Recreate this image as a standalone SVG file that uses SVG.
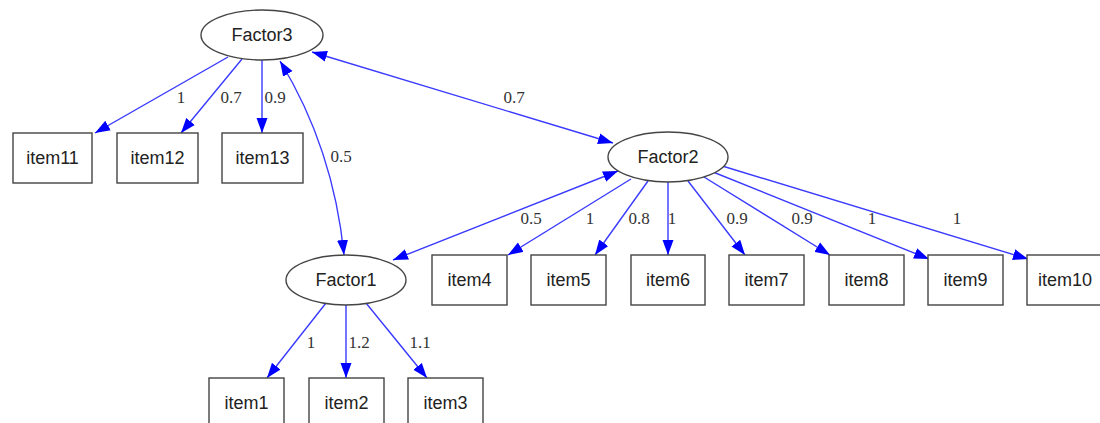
<svg xmlns="http://www.w3.org/2000/svg" width="1100" height="423" viewBox="0 0 1100 423">
<defs>
<marker id="ah" markerUnits="userSpaceOnUse" markerWidth="16" markerHeight="12" refX="15" refY="5.5" orient="auto-start-reverse" viewBox="0 0 16 11">
<polygon points="0,0 15,5.5 0,11" fill="#0000ff"/>
</marker>
<style>
.n ellipse,.n rect{fill:#fff;stroke:#444;stroke-width:1.4}
.n text{font-family:"Liberation Sans",Arial,sans-serif;font-size:18px;fill:#222;text-anchor:middle}
.e path{fill:none;stroke:#3a3aff;stroke-width:1.4}
.e .s{marker-end:url(#ah)}
.e .b{marker-start:url(#ah);marker-end:url(#ah)}
.l text{font-family:"Liberation Serif","Times New Roman",serif;font-size:17px;fill:#333;text-anchor:middle}
</style>
</defs>
<rect width="1100" height="423" fill="#fff"/>
<g class="e">
<path class="s" d="M228,57 L95,133"/>
<path class="s" d="M242,59 L181,133"/>
<path class="s" d="M262,60 L262,133"/>
<path class="b" d="M280,61 C310,110 336,175 344,255"/>
<path class="b" d="M312,52 L613,143"/>
<path class="b" d="M618,171 L393,260"/>
<path class="s" d="M631,179 L508,255"/>
<path class="s" d="M648,181 L595,255"/>
<path class="s" d="M668,182 L668,255"/>
<path class="s" d="M688,181 L745,255"/>
<path class="s" d="M704,177 L830,255"/>
<path class="s" d="M713,172 L929,259"/>
<path class="s" d="M719,165 L1028,259"/>
<path class="s" d="M326,303 L267,378"/>
<path class="s" d="M346,305 L346,378"/>
<path class="s" d="M366,303 L427,378"/>
</g>
<g class="l">
<text x="181" y="103">1</text>
<text x="231" y="103">0.7</text>
<text x="275" y="103">0.9</text>
<text x="341" y="162">0.5</text>
<text x="514" y="103">0.7</text>
<text x="531" y="224">0.5</text>
<text x="590" y="224">1</text>
<text x="639" y="224">0.8</text>
<text x="672" y="224">1</text>
<text x="737" y="224">0.9</text>
<text x="802" y="224">0.9</text>
<text x="872" y="224">1</text>
<text x="957" y="224">1</text>
<text x="311" y="348">1</text>
<text x="359" y="348">1.2</text>
<text x="420" y="348">1.1</text>
</g>
<g id="Factor3" class="n"><ellipse cx="262" cy="35" rx="61" ry="25"/><text x="262" y="41">Factor3</text></g>
<g id="Factor2" class="n"><ellipse cx="668" cy="157" rx="60" ry="25"/><text x="668" y="163">Factor2</text></g>
<g id="Factor1" class="n"><ellipse cx="346" cy="280" rx="60" ry="25"/><text x="346" y="286">Factor1</text></g>
<g id="item11" class="n"><rect x="13" y="133" width="79" height="50"/><text x="52.5" y="164">item11</text></g>
<g id="item12" class="n"><rect x="117" y="133" width="81" height="50"/><text x="157.5" y="164">item12</text></g>
<g id="item13" class="n"><rect x="222" y="133" width="81" height="50"/><text x="262.5" y="164">item13</text></g>
<g id="item4" class="n"><rect x="432" y="255" width="75" height="50"/><text x="469.5" y="286">item4</text></g>
<g id="item5" class="n"><rect x="531" y="255" width="75" height="50"/><text x="568.5" y="286">item5</text></g>
<g id="item6" class="n"><rect x="631" y="255" width="74" height="50"/><text x="668" y="286">item6</text></g>
<g id="item7" class="n"><rect x="729" y="255" width="75" height="50"/><text x="766.5" y="286">item7</text></g>
<g id="item8" class="n"><rect x="829" y="255" width="75" height="50"/><text x="866.5" y="286">item8</text></g>
<g id="item9" class="n"><rect x="928" y="255" width="75" height="50"/><text x="965.5" y="286">item9</text></g>
<g id="item10" class="n"><rect x="1027" y="255" width="76" height="50"/><text x="1065" y="286">item10</text></g>
<g id="item1" class="n"><rect x="209" y="378" width="75" height="50"/><text x="246.5" y="409">item1</text></g>
<g id="item2" class="n"><rect x="309" y="378" width="75" height="50"/><text x="346.5" y="409">item2</text></g>
<g id="item3" class="n"><rect x="408" y="378" width="75" height="50"/><text x="445.5" y="409">item3</text></g>
</svg>
